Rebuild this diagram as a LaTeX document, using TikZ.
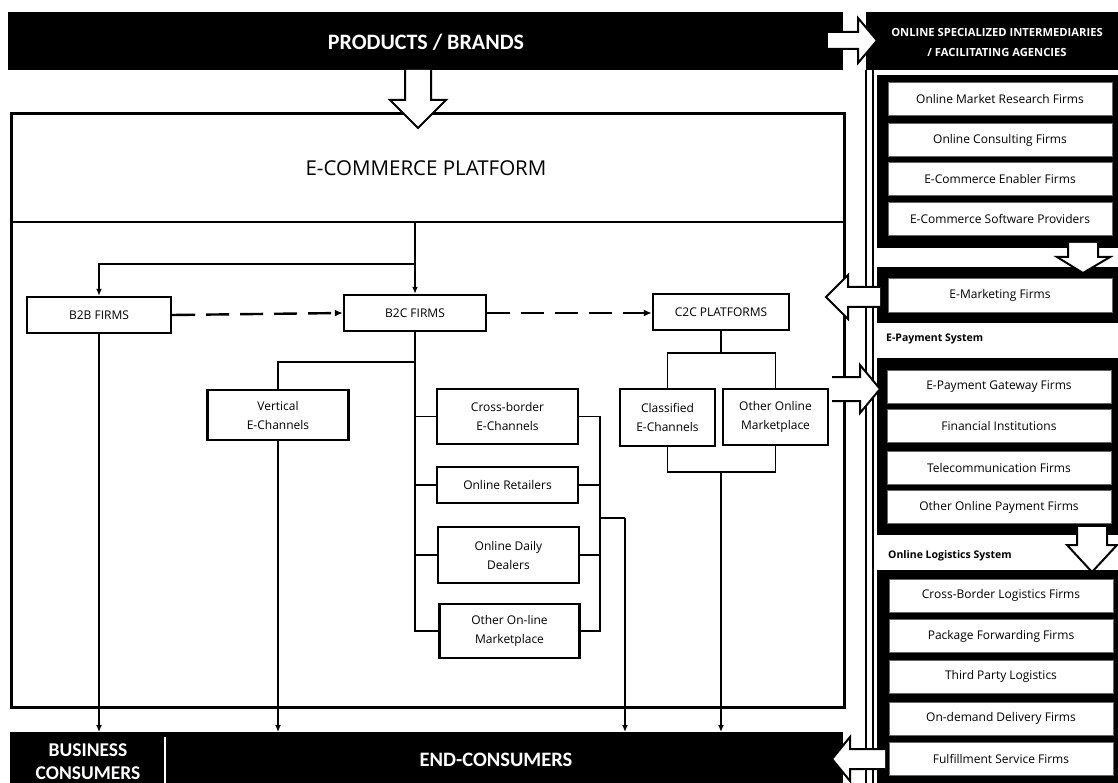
\documentclass[tikz,border=0pt]{standalone}
\usepackage{fontspec}
\setmainfont{Open Sans}
\newfontfamily\carl{Carlito}
\usetikzlibrary{arrows.meta}
\newcommand{\boxfnt}{\fontsize{12}{19}\selectfont}
\newcommand{\barfnt}{\carl\bfseries\fontsize{19.5}{23}\selectfont}
\begin{document}
\begin{tikzpicture}[x=1pt,y=-1pt,
 blackbar/.style={fill=black,draw=none,inner sep=0pt},
 wbox/.style={draw=black,line width=2.4pt,fill=white,inner sep=0pt,align=center,font=\boxfnt},
 rbox/.style={fill=white,draw=black!60,line width=0.6pt,inner sep=0pt,align=center,minimum width=224pt,minimum height=33pt,font=\boxfnt},
 thickc/.style={line width=2pt,-{Latex[length=7pt,width=6pt]}},
 thinc/.style={line width=1.2pt},
 dashc/.style={line width=2.4pt,dash pattern=on 23pt off 11pt,-{Latex[length=8pt,width=7pt]}},
 barlabel/.style={text=white,font=\barfnt,align=center,inner sep=0pt},
 grplabel/.style={font=\bfseries\fontsize{10.5}{12}\selectfont,anchor=west,inner sep=0pt},
 blockarr/.style={draw=black,fill=white,line width=2pt,line join=miter}
]
\useasboundingbox (0,0) rectangle (1118,783);
\clip (0,0) rectangle (1118,783);

% ---------- top bar ----------
\node[blackbar, minimum width=835pt, minimum height=58pt, anchor=north west] (prod) at (8,12) {};
\node[barlabel, font=\carl\bfseries\fontsize{22}{26}\selectfont] (prodt) at (426,42) {PRODUCTS / BRANDS};

% ---------- right column ----------
\node[blackbar, minimum width=260pt, minimum height=58pt, anchor=north west] (hdr) at (866,12) {};
\node[text=white, align=center, inner sep=0pt, font=\bfseries\fontsize{11.2}{20}\selectfont] (hdrt) at (997,42) {ONLINE SPECIALIZED INTERMEDIARIES\\/ FACILITATING AGENCIES};
\draw[line width=1.2pt] (866,70) -- (866,790);
\draw[line width=1.2pt] (873,70) -- (873,790);

\fill[black] (877,75) rectangle (1125,248);
\fill[black] (877,267) rectangle (1125,323);
\fill[black] (877,358) rectangle (1125,535);
\fill[black] (877,570) rectangle (1125,790);

\node[rbox] (r1) at (1000,99) {Online Market Research Firms};
\node[rbox] (r2) at (1000,140) {Online Consulting Firms};
\node[rbox] (r3) at (1000,179) {E-Commerce Enabler Firms};
\node[rbox] (r4) at (1000,219) {E-Commerce Software Providers};
\node[rbox, minimum height=34pt] (mk) at (1000,295) {E-Marketing Firms};
\node[grplabel] (payl) at (886,339) {E-Payment System};
\node[rbox] (p1) at (999,386.5) {E-Payment Gateway Firms};
\node[rbox] (p2) at (999,425.5) {Financial Institutions};
\node[rbox] (p3) at (999,467.5) {Telecommunication Firms};
\node[rbox] (p4) at (999,507) {Other Online Payment Firms};
\node[grplabel] (logl) at (888,556) {Online Logistics System};
\node[rbox] (l1) at (1001,595.5) {Cross-Border Logistics Firms};
\node[rbox] (l2) at (1001,636) {Package Forwarding Firms};
\node[rbox] (l3) at (1001,676.5) {Third Party Logistics};
\node[rbox] (l4) at (1001,718.5) {On-demand Delivery Firms};
\node[rbox] (l5) at (1001,758.5) {Fulfillment Service Firms};

% ---------- e-commerce platform ----------
\node[draw, line width=2.6pt, minimum width=833pt, minimum height=594pt, anchor=north west, inner sep=0pt] (ecom) at (10,112) {};
\draw[line width=2pt] (ecom.west |- 0,222) -- (ecom.east |- 0,222);
\node[font=\fontsize{20.5}{24}\selectfont, inner sep=0pt] (ecomt) at (426,168) {E-COMMERCE PLATFORM};

% ---------- bottom bar ----------
\node[blackbar, minimum width=833pt, minimum height=60pt, anchor=north west] (cons) at (10,732) {};
\draw[white, line width=2pt] (165,737) -- (165,790);
\node[barlabel] (bizt) at (88,762) {BUSINESS\\CONSUMERS};
\node[barlabel, font=\carl\bfseries\fontsize{20.5}{24}\selectfont] (endt) at (496,760) {END-CONSUMERS};

% ---------- inner boxes ----------
\node[wbox, minimum width=144pt, minimum height=36pt] (b2b) at (99,315) {B2B FIRMS};
\node[wbox, minimum width=142pt, minimum height=36pt] (b2c) at (415,313) {B2C FIRMS};
\node[wbox, minimum width=136pt, minimum height=36pt] (c2c) at (721,312) {C2C PLATFORMS};

\node[wbox, minimum width=141pt, minimum height=50pt] (vert) at (278,415) {Vertical\\E-Channels};
\node[wbox, minimum width=141pt, minimum height=55pt] (cross) at (507.5,416.5) {Cross-border\\E-Channels};
\node[wbox, minimum width=141pt, minimum height=36pt] (retail) at (507.5,485) {Online Retailers};
\node[wbox, minimum width=141pt, minimum height=56pt] (daily) at (508.5,555) {Online Daily\\Dealers};
\node[wbox, minimum width=140pt, minimum height=54pt] (oth) at (509.5,631) {Other On-line\\Marketplace};
\node[wbox, minimum width=95pt, minimum height=57pt] (clas) at (667.5,417.5) {Classified\\E-Channels};
\node[wbox, minimum width=105pt, minimum height=56pt] (ooth) at (775.5,417) {Other Online\\Marketplace};

% ---------- connectors ----------
\coordinate (split) at (415,222);
\coordinate (fork) at (415,264);
\draw[thickc] (split) -- (b2c.north);
\draw[thickc] (fork) -| (b2b.north);
\draw[dashc] (b2b.east) -- (b2c.west);
\draw[dashc] (b2c.east) -- (c2c.west |- b2c.east);

% B2C branches
\coordinate (vfork) at (415,362);
\coordinate (colx) at (600,0);
\draw[thinc] (b2c.south) |- (oth.west);
\draw[thinc] (vfork) -| (vert.north);
\draw[thinc] (b2c.south |- cross.west) -- (cross.west);
\draw[thinc] (b2c.south |- retail.west) -- (retail.west);
\draw[thinc] (b2c.south |- daily.west) -- (daily.west);
\draw[thinc] (cross.east) -- (cross.east -| colx) -- (oth.east -| colx) -- (oth.east);
\draw[thinc] (retail.east) -- (retail.east -| colx);
\draw[thinc] (daily.east) -- (daily.east -| colx);
\coordinate (bj) at (600,518);
\coordinate (bk) at (625,518);
\draw[line width=2pt] (bj) -- (bk);
\draw[thickc] (bk) -- (bk |- cons.north);

% C2C branches
\coordinate (cfork) at (721,353);
\coordinate (cjoin) at (721,472);
\draw[thinc] (c2c.south) -- (cfork);
\draw[thinc] (clas.north) |- (cfork) -| (ooth.north);
\draw[thinc] (clas.south) |- (cjoin) -| (ooth.south);
\draw[thickc] (cjoin) -- (cjoin |- cons.north);

% down to consumers
\draw[thickc] (b2b.south) -- (b2b.south |- cons.north);
\draw[thickc] (vert.south) -- (vert.south |- cons.north);

% ---------- block arrows ----------
\draw[blockarr] (405,70) -- (405,100) -- (390,100) -- (418,128) -- (446,100) -- (431,100) -- (431,70);
\draw[blockarr] (828,32) -- (858,32) -- (858,18) -- (877,40.5) -- (858,63) -- (858,49) -- (828,49);
\draw[blockarr] (1068,243) -- (1068,257) -- (1057,257) -- (1083,273) -- (1110,257) -- (1098,257) -- (1098,243);
\draw[blockarr] (880,287) -- (848,287) -- (848,275) -- (826,297) -- (848,319) -- (848,307) -- (880,307);
\draw[blockarr] (832,377) -- (860,377) -- (860,365) -- (880,389) -- (860,413) -- (860,401) -- (832,401);
\draw[blockarr] (1077,527) -- (1077,545) -- (1067,545) -- (1092,572) -- (1117,545) -- (1107,545) -- (1107,527);
\draw[blockarr] (885,749) -- (850,749) -- (850,737) -- (832,759) -- (850,781) -- (850,769) -- (885,769);
\end{tikzpicture}
\end{document}
